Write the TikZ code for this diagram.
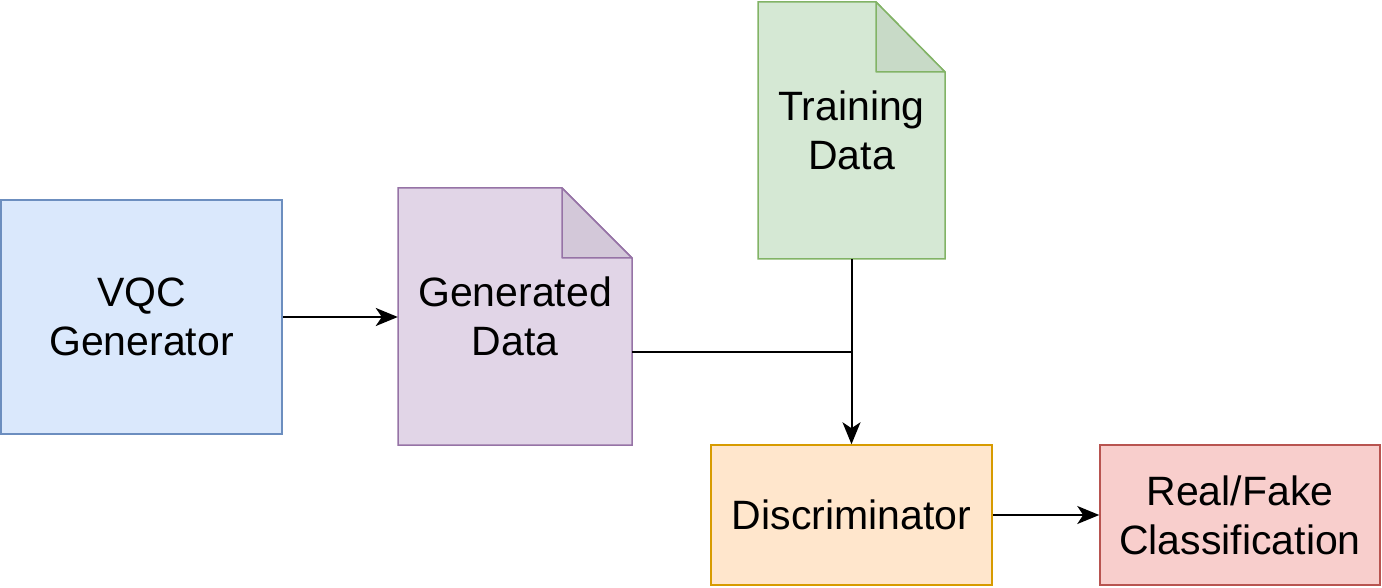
\documentclass[tikz,border=0pt]{standalone}
\usepackage{fontspec}
\setmainfont{Liberation Sans}
\usetikzlibrary{arrows.meta}
\definecolor{bluefill}{HTML}{DAE8FC}\definecolor{bluedraw}{HTML}{6C8EBF}
\definecolor{purfill}{HTML}{E1D5E7}\definecolor{purdraw}{HTML}{9673A6}
\definecolor{grnfill}{HTML}{D5E8D4}\definecolor{grndraw}{HTML}{82B366}
\definecolor{orfill}{HTML}{FFE6CC}\definecolor{ordraw}{HTML}{D79B00}
\definecolor{redfill}{HTML}{F8CECC}\definecolor{reddraw}{HTML}{B85450}
\begin{document}
\begin{tikzpicture}[x=1pt,y=-1pt,
  lbl/.style={font=\fontsize{41}{49}\selectfont, align=center, inner sep=0pt},
  boxnode/.style={lbl, draw, line width=1.5pt, minimum width=#1},
  conn/.style={line width=2pt, -{Stealth[length=22pt,width=18pt,inset=6pt]}},
  plain/.style={line width=2pt}
]
\useasboundingbox (0,0) rectangle (1382,588);
% boxes
\node[boxnode=281pt, minimum height=234pt, fill=bluefill, draw=bluedraw] (vqc) at (141.5,317) {VQC\\Generator};
\node[boxnode=281pt, minimum height=140pt, fill=orfill, draw=ordraw] (disc) at (851.5,515) {Discriminator};
\node[boxnode=280pt, minimum height=140pt, fill=redfill, draw=reddraw] (cls) at (1240,515) {Real/Fake\\Classification};
% generated data document
\draw[line width=1.5pt, draw=purdraw, fill=purfill] (398,188) -- (562,188) -- (632,258) -- (632,445) -- (398,445) -- cycle;
\draw[line width=1.5pt, draw=purdraw, fill=purfill!94!black, line join=round] (562,188) -- (632,258) -- (562,258) -- cycle;
\node[lbl, minimum width=234pt, minimum height=257pt] (gen) at (515,316.5) {Generated\\Data};
% training data document
\draw[line width=1.5pt, draw=grndraw, fill=grnfill] (758,2) -- (876,2) -- (945,72) -- (945,259) -- (758,259) -- cycle;
\draw[line width=1.5pt, draw=grndraw, fill=grnfill!94!black, line join=round] (876,2) -- (945,72) -- (876,72) -- cycle;
\node[lbl, minimum width=187pt, minimum height=257pt] (train) at (851.5,130.5) {Training\\Data};
% connectors
\coordinate (join) at (disc.north |- gen.east);
\draw[conn] (vqc.east) -- (gen.west |- vqc.east);
\draw[conn] (train.south -| disc.north) -- (disc.north);
\draw[plain] ([yshift=-35.5pt]gen.east) -- ([yshift=-35.5pt]join);
\draw[conn] (disc.east) -- (cls.west);
\end{tikzpicture}
\end{document}
